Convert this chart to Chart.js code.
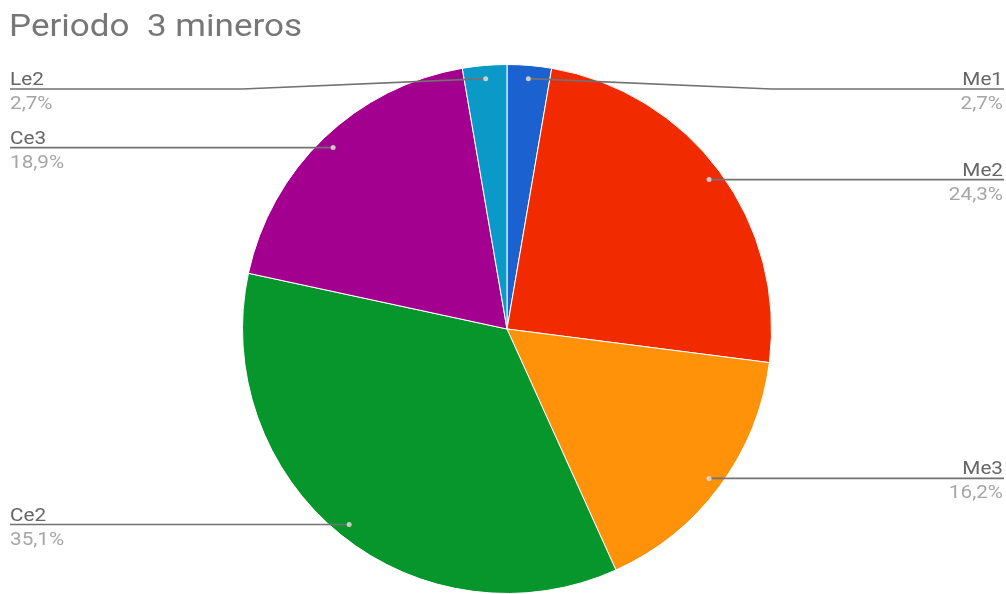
<!DOCTYPE html>
<html>
<head>
<meta charset="utf-8">
<title>Periodo 3 mineros</title>
<script src="https://cdn.jsdelivr.net/npm/chart.js@4/dist/chart.umd.min.js"></script>
<style>
  html, body { margin: 0; padding: 0; background: #fff; }
  #wrap { width: 1006px; height: 594px; position: relative; }
</style>
</head>
<body>
<div id="wrap"><canvas id="pieChart"></canvas></div>
<script>
// Slice data
const chartTitle = 'Periodo  3 mineros';
const categories = ['Me1', 'Me2', 'Me3', 'Ce2', 'Ce3', 'Le2'];
const counts = [1, 9, 6, 13, 7, 1];
const sliceColors = ['#1b62d0', '#f22a00', '#ff9208', '#07962c', '#a3008f', '#0b9ac8'];

const total = counts.reduce((a, b) => a + b, 0);

function pctText(v) {
  return (v / total * 100).toFixed(1).replace('.', ',') + '%';
}

// text is a bit wide in this style, so stretch it horizontally
function wideText(ctx, text, x, y, align, stretch) {
  ctx.save();
  ctx.translate(x, y);
  ctx.scale(stretch, 1);
  ctx.textAlign = align;
  ctx.fillText(text, 0, 0);
  ctx.restore();
}

// Title plus callout labels with leader lines
const calloutPlugin = {
  id: 'callouts',
  afterDraw(chart) {
    const ctx = chart.ctx;
    const area = chart.chartArea;
    const meta = chart.getDatasetMeta(0);
    const W = chart.width;

    ctx.save();
    ctx.textBaseline = 'alphabetic';
    ctx.font = '31px Roboto';
    ctx.fillStyle = '#777777';
    wideText(ctx, chartTitle, 9, 36, 'left', 1.13);

    meta.data.forEach((arc, i) => {
      const p = arc.getProps(['x', 'y', 'startAngle', 'endAngle', 'outerRadius']);
      const mid = (p.startAngle + p.endAngle) / 2;
      const dotX = p.x + Math.cos(mid) * p.outerRadius * 0.95;
      const dotY = p.y + Math.sin(mid) * p.outerRadius * 0.95;
      const right = dotX >= p.x;
      const lineY = Math.max(dotY, area.top + 25);
      const bendX = right ? p.x + p.outerRadius : p.x - p.outerRadius;
      const endX = right ? W - 2 : 10;

      ctx.strokeStyle = '#727272';
      ctx.lineWidth = 1.6;
      ctx.beginPath();
      ctx.moveTo(dotX, dotY);
      if (lineY !== dotY) ctx.lineTo(bendX, lineY);
      ctx.lineTo(endX, lineY);
      ctx.stroke();

      ctx.fillStyle = 'rgba(215,215,215,0.9)';
      ctx.beginPath();
      ctx.arc(dotX, dotY, 2.5, 0, Math.PI * 2);
      ctx.fill();

      const align = right ? 'right' : 'left';
      const tx = right ? W - 3 : 10;
      ctx.font = '18px Roboto';
      ctx.fillStyle = '#666666';
      wideText(ctx, categories[i], tx, lineY - 4, align, 1.15);
      ctx.fillStyle = '#a6a6a6';
      wideText(ctx, pctText(counts[i]), tx, lineY + 20, align, 1.15);
    });
    ctx.restore();
  }
};

const ctx = document.getElementById('pieChart').getContext('2d');
const chart = new Chart(ctx, {
  type: 'pie',
  data: {
    labels: categories,
    datasets: [{
      data: counts,
      backgroundColor: sliceColors,
      borderColor: '#ffffff',
      borderWidth: 1
    }]
  },
  options: {
    responsive: true,
    maintainAspectRatio: false,
    animation: false,
    layout: { padding: { top: 64, bottom: 0, left: 8, right: 0 } },
    plugins: {
      legend: { display: false },
      tooltip: { enabled: false },
      title: { display: false }
    }
  },
  plugins: [calloutPlugin]
});
</script>
</body>
</html>
